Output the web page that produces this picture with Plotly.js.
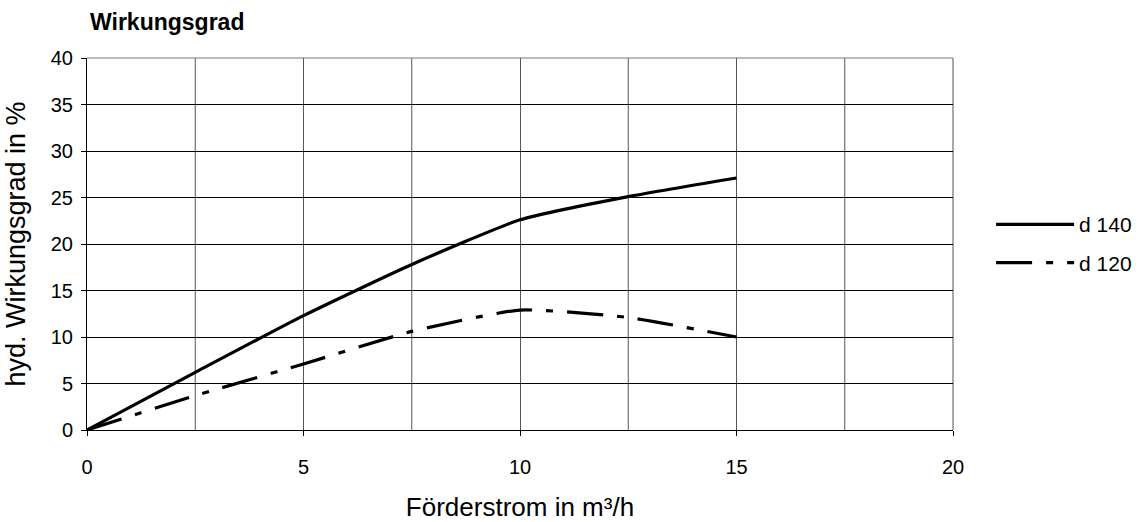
<!DOCTYPE html>
<html>
<head>
<meta charset="utf-8">
<script src="https://cdn.plot.ly/plotly-3.0.1.min.js"></script>
<style>html,body{margin:0;padding:0;background:#fff;}#chart{width:1141px;height:522px;}</style>
</head>
<body>
<div id="chart"></div>
<script>
const flow = [0, 2.5, 5, 7.5, 10, 12.5, 15];
const d140 = [0, 6.2, 12.3, 17.8, 22.6, 25.1, 27.1];
const d120 = [0, 3.7, 7.1, 10.6, 12.9, 12.1, 10.0];
const seriesNames = ['d 140', 'd 120'];
const xTicks = [0, 5, 10, 15, 20];
const yTicks = [0, 5, 10, 15, 20, 25, 30, 35, 40];

const traces = [
  {x: flow, y: d140, name: seriesNames[0], mode: 'lines', legendgroup: 'a',
   line: {color: '#000', width: 3.2, shape: 'spline', smoothing: 0.5}},
  {x: flow, y: d120, name: seriesNames[1], mode: 'lines', legendgroup: 'b',
   line: {color: '#000', width: 3.2, shape: 'spline', smoothing: 0.5, dash: '36px,14px,7px,14px'}}
];

const font = {family: 'Arial, Liberation Sans, sans-serif', color: '#000'};
const layout = {
  width: 1141, height: 522,
  margin: {l: 87, r: 188, t: 58, b: 92, autoexpand: false},
  paper_bgcolor: '#fff', plot_bgcolor: '#fff',
  font: Object.assign({size: 20}, font),
  showlegend: true,
  title: {text: '<b>Wirkungsgrad</b>', font: Object.assign({size: 23}, font),
          xref: 'container', yref: 'container', x: 0.0789, xanchor: 'left', y: 0.958, yanchor: 'middle'},
  xaxis: {
    range: [0, 20], tickmode: 'array', tickvals: xTicks, ticktext: xTicks.map(String),
    showgrid: true, gridcolor: '#555', gridwidth: 1,
    showline: true, linecolor: '#000', linewidth: 1,
    ticks: 'outside', ticklen: 5, tickcolor: '#000', ticklabelstandoff: 14,
    zeroline: false, tickfont: {family: 'Arial, Liberation Sans, sans-serif', color: '#000', size: 20},
    title: {text: 'Förderstrom in m³/h', font: Object.assign({size: 26}, font), standoff: 21}
  },
  yaxis: {
    range: [0, 40], tickmode: 'array', tickvals: yTicks, ticktext: yTicks.map(String),
    showgrid: true, gridcolor: '#000', gridwidth: 1,
    showline: true, linecolor: '#000', linewidth: 1,
    ticks: 'outside', ticklen: 5, tickcolor: '#000', ticklabelstandoff: 4,
    zeroline: false, tickfont: {family: 'Arial, Liberation Sans, sans-serif', color: '#000', size: 20},
    title: {text: 'hyd. Wirkungsgrad in %', font: Object.assign({size: 27}, font), standoff: 17}
  },
  legend: {x: 1.044, xanchor: 'left', y: 0.501, yanchor: 'middle', itemwidth: 78,
           font: Object.assign({size: 21}, font), tracegroupgap: 8,
           bgcolor: 'rgba(0,0,0,0)', traceorder: 'grouped'},
  shapes: [
    {type: 'line', xref: 'x', yref: 'paper', x0: 2.5, x1: 2.5, y0: 0, y1: 1, line: {color: '#555', width: 1}, layer: 'below'},
    {type: 'line', xref: 'x', yref: 'paper', x0: 7.5, x1: 7.5, y0: 0, y1: 1, line: {color: '#555', width: 1}, layer: 'below'},
    {type: 'line', xref: 'x', yref: 'paper', x0: 12.5, x1: 12.5, y0: 0, y1: 1, line: {color: '#555', width: 1}, layer: 'below'},
    {type: 'line', xref: 'x', yref: 'paper', x0: 17.5, x1: 17.5, y0: 0, y1: 1, line: {color: '#555', width: 1}, layer: 'below'},
    {type: 'line', xref: 'paper', yref: 'paper', x0: 1, x1: 1, y0: 0, y1: 1, line: {color: '#555', width: 1}, layer: 'below'},
    {type: 'line', xref: 'paper', yref: 'paper', x0: 0, x1: 1, y0: 1, y1: 1, line: {color: '#777', width: 1}, layer: 'below'}
  ]
};

Plotly.newPlot('chart', traces, layout, {displayModeBar: false, staticPlot: true});
</script>
</body>
</html>
